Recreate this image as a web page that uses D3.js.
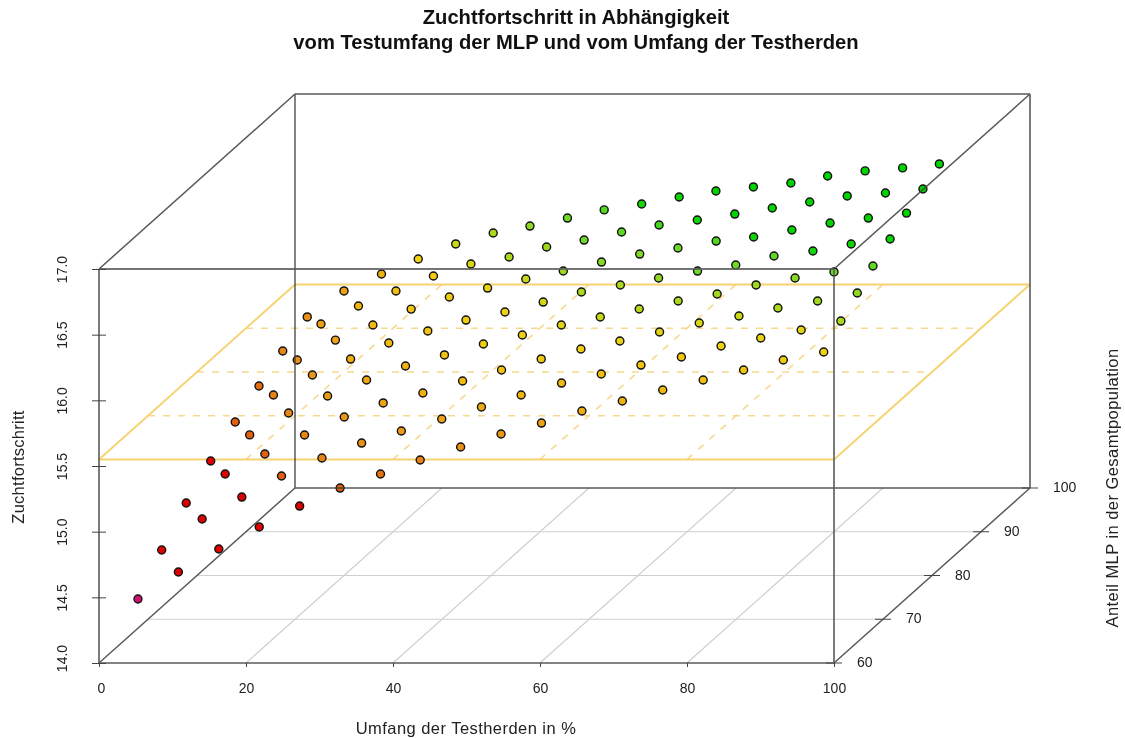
<!DOCTYPE html>
<html><head><meta charset="utf-8">
<script src="https://cdn.jsdelivr.net/npm/d3@7/dist/d3.min.js"></script>
<style>html,body{margin:0;padding:0;background:#fff}svg{display:block;filter:blur(0.35px)}text{font-family:"Liberation Sans",Arial,sans-serif;fill:#222}</style>
</head><body><svg id="c" width="1125" height="738"></svg>
<script>
const titleLines = ["Zuchtfortschritt in Abhängigkeit","vom Testumfang der MLP und vom Umfang der Testherden"];
const xLabel = "Umfang der Testherden in %";
const yLabel = "Anteil MLP in der Gesamtpopulation";
const zLabel = "Zuchtfortschritt";
const xTicks = [0,20,40,60,80,100];
const yTicks = [60,70,80,90,100];
const zTicks = [14,14.5,15,15.5,16,16.5,17];
const planeZ = 15.55;
const yRows = [60,65,70,75,80,85,90,95];
const xRows = [
[5.3,10.8,16.3,21.8,27.3,32.8,38.3,43.7,49.2,54.7,60.2,65.7,71.2,76.7,82.2,87.7,93.1,98.6],
[5.2,10.7,16.1,21.5,27.0,32.4,37.8,43.3,48.7,54.1,59.6,65.0,70.4,75.9,81.3,86.7,92.2,97.6],
[5.2,10.5,15.9,21.3,26.7,32.0,37.4,42.8,48.1,53.5,58.9,64.2,69.6,75.0,80.4,85.7,91.1,96.5],
[5.2,10.5,15.8,21.1,26.4,31.7,37.0,42.3,47.6,52.9,58.2,63.5,68.8,74.1,79.4,84.7,90.0,95.3],
[5.2,10.4,15.7,20.9,26.1,31.4,36.6,41.9,47.1,52.3,57.6,62.8,68.1,73.3,78.5,83.8,89.0,94.3],
[5.1,10.3,15.5,20.6,25.8,31.0,36.2,41.4,46.5,51.7,56.9,62.1,67.3,72.4,77.6,82.8,88.0,93.2],
[5.0,10.2,15.3,20.4,25.5,30.6,35.8,40.9,46.0,51.1,56.2,61.4,66.5,71.6,76.7,81.8,87.0,92.1],
[5.0,10.0,15.1,20.1,25.2,30.3,35.3,40.4,45.4,50.5,55.6,60.6,65.7,70.8,75.8,80.9,86.0,91.0]];
const zRows = [
[14.487,14.693,14.868,15.036,15.195,15.332,15.439,15.546,15.645,15.744,15.827,15.919,15.995,16.079,16.155,16.231,16.307,16.368],
[14.694,14.930,15.097,15.257,15.394,15.508,15.600,15.691,15.783,15.874,15.965,16.034,16.102,16.163,16.247,16.308,16.369,16.437],
[14.885,15.106,15.258,15.403,15.540,15.647,15.723,15.814,15.898,15.982,16.058,16.119,16.187,16.256,16.309,16.370,16.423,16.484],
[15.038,15.237,15.404,15.533,15.655,15.762,15.846,15.929,15.998,16.074,16.135,16.196,16.257,16.310,16.379,16.432,16.478,16.523],
[15.169,15.374,15.527,15.648,15.770,15.862,15.945,16.006,16.082,16.159,16.212,16.265,16.318,16.364,16.433,16.471,16.524,16.562],
[15.276,15.474,15.626,15.741,15.862,15.954,16.022,16.091,16.152,16.220,16.281,16.327,16.380,16.411,16.464,16.517,16.555,16.593],
[15.376,15.582,15.719,15.833,15.947,16.039,16.092,16.168,16.221,16.282,16.336,16.374,16.419,16.465,16.511,16.557,16.579,16.610],
[15.469,15.667,15.796,15.910,16.025,16.108,16.161,16.222,16.284,16.329,16.382,16.428,16.459,16.489,16.542,16.581,16.604,16.634]];
// colour class of each point (0 = magenta ... 10 = pure green)
const shadeRows = [
[0,1,1,1,1,2,2.4,2.7,3,3.2,3.5,3.9,4.1,4.3,4.5,4.7,4.8,5],
[1,1,1,2,2.7,3,3.3,3.6,3.8,4.1,4.3,4.4,4.6,4.7,5,5.2,5.4,6.7],
[1,1,2,2.8,3.2,3.6,4,4.3,4.6,4.8,5,5.2,5.4,5.6,6,6.7,7,7.3],
[1,2,2.8,3.3,3.7,4.1,4.6,4.9,5,5.5,6,6.4,6.7,6.9,7,7.5,8,8.3],
[2,2.7,3.2,3.9,4.3,4.6,4.9,5,5.8,6.7,6.7,7.3,8,8,8.3,9.6,9.7,9.9],
[2.3,3,3.6,4.3,4.6,4.9,5.2,6,7,7.5,7.6,8,8.5,9.7,10,10,10,10],
[2.7,3.5,4.2,4.4,4.9,5.6,6.7,7,8,8.3,8.7,9.7,10,10,10,10,10,10],
[3,3.6,4,5,6,6.7,7.3,8,8.5,9.5,9.8,10,10,10,10,10,10,10]];
const colorStops = [0,1,2,3,4,5,6,7,8,9,10];
const colorRange = ["#d01070","#dd0000","#e06010","#e89018","#f0b010","#f0d010","#c8d818","#a0d820","#70d828","#30d818","#00d400"];

const svg = d3.select("#c");
const left=99, right=834, floor=663, top3=269, dx=196, dy=175;
const sx = d3.scaleLinear().domain([0,100]).range([left,right]);
const sy = d3.scaleLinear().domain([60,100]).range([0,1]);
const sz = d3.scaleLinear().domain([14,17]).range([floor,top3]);
const color = d3.scaleLinear().domain(colorStops).range(colorRange);
const px = (x,y)=>sx(x)+sy(y)*dx;
const py = (y,z)=>sz(z)-sy(y)*dy;
const seg = (g,a,b,st)=>g.append("line").attr("x1",px(a[0],a[1])).attr("y1",py(a[1],a[2])).attr("x2",px(b[0],b[1])).attr("y2",py(b[1],b[2])).attr("stroke",st.c).attr("stroke-width",st.w).attr("stroke-dasharray",st.d||null);

const gridG = svg.append("g");
const gs={c:"#cfcfcf",w:1.2};
xTicks.slice(1,-1).forEach(x=>seg(gridG,[x,60,14],[x,100,14],gs));
yTicks.slice(1,-1).forEach(y=>seg(gridG,[0,y,14],[100,y,14],gs));

const planeG = svg.append("g");
const pd={c:"#f6d98e",w:1.6,d:"7 8"}, ps={c:"#f5d272",w:2};
xTicks.slice(1,-1).forEach(x=>seg(planeG,[x,60,planeZ],[x,100,planeZ],pd));
yTicks.slice(1,-1).forEach(y=>seg(planeG,[0,y,planeZ],[100,y,planeZ],pd));
seg(planeG,[0,60,planeZ],[100,60,planeZ],ps);
seg(planeG,[100,60,planeZ],[100,100,planeZ],ps);
seg(planeG,[100,100,planeZ],[0,100,planeZ],ps);
seg(planeG,[0,100,planeZ],[0,60,planeZ],ps);

const pts = [];
yRows.forEach((y,r)=>xRows[r].forEach((x,c)=>pts.push({x,y,z:zRows[r][c],s:shadeRows[r][c]})));
svg.append("g").selectAll("circle").data(pts).join("circle")
 .attr("cx",d=>px(d.x,d.y)).attr("cy",d=>py(d.y,d.z)).attr("r",4)
 .attr("fill",d=>color(d.s)).attr("stroke","#111").attr("stroke-width",1.4);

const boxG = svg.append("g").attr("opacity",0.85);
const bs={c:"#3c3c3c",w:1.5}, bv={c:"#5c5c5c",w:1.9};
seg(boxG,[0,60,14],[100,60,14],bs);
seg(boxG,[0,60,14],[0,60,17],bv);
seg(boxG,[100,60,14],[100,60,17],bv);
seg(boxG,[0,60,17],[100,60,17],bv);
seg(boxG,[0,100,14],[100,100,14],bs);
seg(boxG,[0,100,14],[0,100,17],bs);
seg(boxG,[100,100,14],[100,100,17],bv);
seg(boxG,[0,100,17],[100,100,17],bs);
seg(boxG,[0,60,14],[0,100,14],bs);
seg(boxG,[100,60,14],[100,100,14],bs);
seg(boxG,[0,60,17],[0,100,17],bs);
seg(boxG,[100,60,17],[100,100,17],bs);

const ax = svg.append("g").attr("transform",`translate(0,${floor})`)
 .call(d3.axisBottom(sx).tickValues(xTicks).tickSize(4).tickFormat(d3.format("d")));
ax.select(".domain").remove();
ax.selectAll("line").attr("stroke","#444");
ax.selectAll("text").attr("y",25).attr("dy","0").attr("dominant-baseline","central").style("font-size","14px").attr("dx",d=>d===0?2:0);

const az = svg.append("g").attr("transform",`translate(${left},0)`)
 .call(d3.axisLeft(sz).tickValues(zTicks).tickSize(7).tickFormat(d3.format(".1f")));
az.select(".domain").remove();
az.selectAll("line").attr("x1",-7).attr("x2",7).attr("stroke","#444");
az.selectAll("text").attr("x",null).attr("dy",null).attr("text-anchor","middle").style("font-size","14px")
 .attr("transform",d=>`translate(-37,${d===14?-5:0}) rotate(-90)`).attr("y",0).attr("dominant-baseline","central");

const ayG = svg.append("g");
yTicks.forEach(y=>{
  const X=px(100,y),Y=py(y,14);
  ayG.append("line").attr("x1",X-8).attr("x2",X+8).attr("y1",Y).attr("y2",Y).attr("stroke","#444");
  ayG.append("text").attr("x",X+23).attr("y",Y-1).attr("dominant-baseline","central").style("font-size","14px").text(y);
});

svg.append("g").selectAll("text").data(titleLines).join("text")
 .attr("x",576).attr("y",(d,i)=>24+i*25).attr("text-anchor","middle")
 .style("font-size","20.2px").style("font-weight","bold").style("fill","#111").text(d=>d);
const lab = {"font-size":"16.5px","letter-spacing":"0.45px"};
svg.append("text").attr("x",466).attr("y",734).attr("text-anchor","middle").style("font-size",lab["font-size"]).style("letter-spacing",lab["letter-spacing"]).text(xLabel);
svg.append("text").attr("transform","translate(24,467) rotate(-90)").attr("text-anchor","middle").style("font-size",lab["font-size"]).style("letter-spacing","0.27px").text(zLabel);
svg.append("text").attr("transform","translate(1118,488) rotate(-90)").attr("text-anchor","middle").style("font-size",lab["font-size"]).style("letter-spacing",lab["letter-spacing"]).text(yLabel);
</script></body></html>
